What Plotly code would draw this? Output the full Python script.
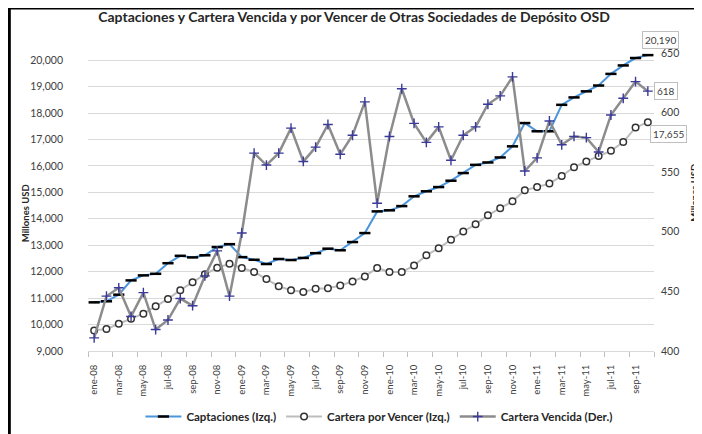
import plotly.graph_objects as go

months = ["ene-08", "feb-08", "mar-08", "abr-08", "may-08", "jun-08", "jul-08", "ago-08", "sep-08", "oct-08", "nov-08", "dic-08",
          "ene-09", "feb-09", "mar-09", "abr-09", "may-09", "jun-09", "jul-09", "ago-09", "sep-09", "oct-09", "nov-09", "dic-09",
          "ene-10", "feb-10", "mar-10", "abr-10", "may-10", "jun-10", "jul-10", "ago-10", "sep-10", "oct-10", "nov-10", "dic-10",
          "ene-11", "feb-11", "mar-11", "abr-11", "may-11", "jun-11", "jul-11", "ago-11", "sep-11", "oct-11"]

captaciones = [10840, 10880, 11130, 11670, 11860, 11920, 12320, 12600, 12540, 12620, 12930, 13040,
               12550, 12450, 12290, 12480, 12440, 12520, 12700, 12870, 12810, 13120, 13460, 14280,
               14320, 14480, 14850, 15040, 15200, 15440, 15730, 16040, 16130, 16320, 16740, 17620,
               17310, 17310, 18310, 18590, 18820, 19040, 19480, 19800, 20080, 20190]

por_vencer = [9780, 9830, 10030, 10220, 10410, 10690, 10970, 11300, 11600, 11900, 12150, 12300,
              12140, 11990, 11720, 11450, 11300, 11230, 11350, 11370, 11480, 11630, 11820, 12140,
              11990, 11990, 12230, 12620, 12890, 13210, 13520, 13790, 14130, 14400, 14660, 15075,
              15200, 15330, 15620, 15950, 16170, 16370, 16570, 16900, 17450, 17655]

vencida = [411, 446, 453, 429, 449, 418, 426, 444, 438, 463, 484, 446,
           499, 566, 556, 566, 587, 559, 571, 590, 565, 581, 609, 524,
           580, 620, 591, 575, 588, 560, 581, 588, 607, 614, 630, 551,
           562, 593, 573, 580, 579, 567, 598, 612, 626, 618]

names = ["Captaciones (Izq.)", "Cartera por Vencer (Izq.)", "Cartera Vencida (Der.)"]
title = "Captaciones y Cartera Vencida y por Vencer de Otras Sociedades de Depósito OSD"

FONT = "Lato"
x = list(range(len(months)))

fig = go.Figure()
fig.add_trace(go.Scatter(
    x=x, y=captaciones, name=names[0], mode="lines+markers",
    line=dict(color="#4A95DC", width=2),
    marker=dict(symbol="line-ew", size=8, color="black", line=dict(color="black", width=2.5)),
))
fig.add_trace(go.Scatter(
    x=x, y=por_vencer, name=names[1], mode="lines+markers",
    line=dict(color="#BDBDBD", width=2),
    marker=dict(symbol="circle", size=6.5, color="white", line=dict(color="#333333", width=1.5)),
))
fig.add_trace(go.Scatter(
    x=x, y=vencida, name=names[2], mode="lines+markers", yaxis="y2",
    line=dict(color="#8C8C8C", width=2.5),
    marker=dict(symbol="cross-thin", size=7, color="#3A3A9A", line=dict(color="#3A3A9A", width=1.4)),
))

box = dict(bordercolor="#BFBFBF", borderwidth=1, bgcolor="white", borderpad=2,
           font=dict(family=FONT, size=10, color="#404040"), showarrow=False)
fig.add_annotation(x=x[-1], y=captaciones[-1], xref="x", yref="y", text=f"{captaciones[-1]:,}",
                   xshift=13, yshift=15, **box)
fig.add_annotation(x=x[-1], y=vencida[-1], xref="x", yref="y2", text=f"{vencida[-1]:,}",
                   xshift=18, yshift=0, **box)
fig.add_annotation(x=x[-1], y=por_vencer[-1], xref="x", yref="y", text=f"{por_vencer[-1]:,}",
                   xshift=21, yshift=-12, **box)

axis_title = dict(showarrow=False, textangle=-90, xref="paper", yref="paper",
                  xanchor="center", yanchor="middle",
                  font=dict(family=FONT, size=9.5, color="#262626", weight="bold"))
fig.add_annotation(text="Millones USD", x=-0.111, y=0.463, **axis_title)
fig.add_annotation(text="Millones USD", x=1.07, y=0.53, **axis_title)

fig.add_shape(type="line", xref="paper", yref="paper", x0=-0.2, x1=1.2, y0=1.151, y1=1.151,
              line=dict(color="black", width=3))
fig.add_shape(type="line", xref="paper", yref="paper", x0=-0.139, x1=-0.139, y0=1.16, y1=-0.31,
              line=dict(color="black", width=3))

fig.update_layout(
    width=702, height=434,
    margin=dict(l=80, r=56, t=45, b=91, autoexpand=False),
    paper_bgcolor="white", plot_bgcolor="white",
    font=dict(family=FONT, color="#404040"),
    title=dict(text=title, x=0.493, y=0.98, xref="container", yref="container",
               xanchor="center", yanchor="middle",
               font=dict(family=FONT, size=14, color="#262626", weight="bold")),
    showlegend=True,
    legend=dict(orientation="h", x=0.514, xanchor="center", y=-0.22, yanchor="middle",
                itemwidth=36,
                font=dict(family=FONT, size=11.5, color="#262626", weight="bold"),
                bgcolor="rgba(0,0,0,0)"),
    xaxis=dict(range=[-0.5, len(months) - 0.5], tickmode="array", tickvals=x[::2], ticktext=months[::2],
               tickangle=-90, ticks="", showline=True, linecolor="#D9D9D9", linewidth=1,
               showgrid=False, zeroline=False, ticklabelstandoff=9,
               tickfont=dict(family=FONT, size=9.5, color="#404040"),
               minor=dict(tickmode="array", tickvals=[v - 0.5 for v in x[::2]] + [len(months) - 0.5],
                          ticks="outside", ticklen=5, tickcolor="#BFBFBF", showgrid=False)),
    yaxis=dict(range=[9000, 20270], tick0=9000, dtick=1000, tickformat=",", showgrid=True,
               gridcolor="#D9D9D9", gridwidth=1, zeroline=False, showline=False, ticks="",
               ticklabelstandoff=24, tickfont=dict(family=FONT, size=10.5, color="#404040")),
    yaxis2=dict(range=[400, 650], dtick=50, overlaying="y", side="right", showgrid=False,
                zeroline=False, showline=False, ticks="", ticklabelstandoff=6,
                tickfont=dict(family=FONT, size=10.5, color="#404040")),
)

fig.write_html("out.html")
